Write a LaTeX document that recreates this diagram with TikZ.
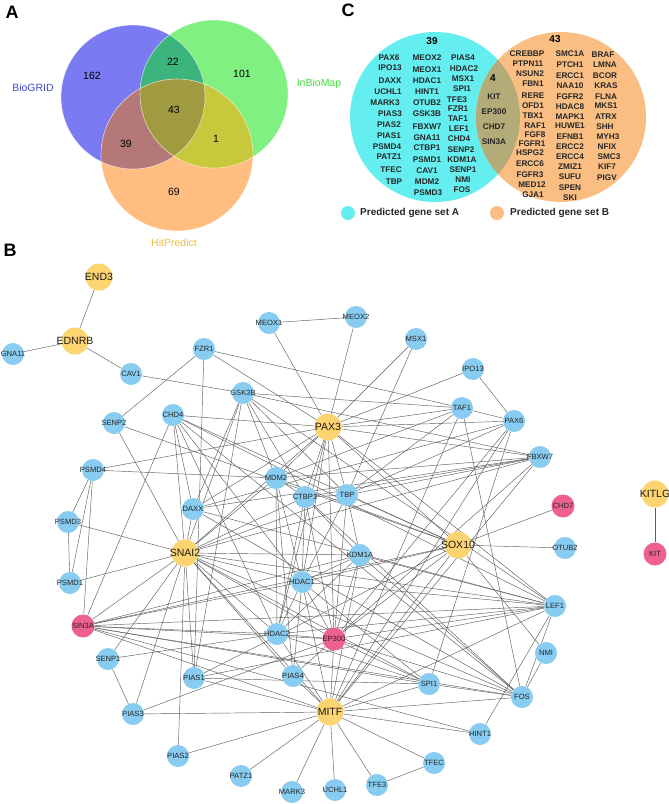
\documentclass[tikz,border=0pt]{standalone}
\usepackage{fontspec}
\setmainfont{Liberation Sans}
\pgfdeclarelayer{bg}
\pgfdeclarelayer{edges}
\pgfsetlayers{bg,edges,main}
\definecolor{vblue}{RGB}{122,122,242}
\definecolor{vgreen}{RGB}{128,240,128}
\definecolor{vorange}{RGB}{255,190,128}
\definecolor{vteal}{RGB}{60,180,125}
\definecolor{vbrown}{RGB}{180,120,120}
\definecolor{vyel}{RGB}{200,200,60}
\definecolor{volive}{RGB}{160,155,65}
\definecolor{lblue}{RGB}{70,70,210}
\definecolor{lgreen}{RGB}{70,220,70}
\definecolor{lorange}{RGB}{240,190,60}
\definecolor{ccyan}{RGB}{100,238,240}
\definecolor{corange}{RGB}{250,190,130}
\definecolor{colive}{RGB}{180,172,120}
\definecolor{nblue}{RGB}{136,204,241}
\definecolor{nyel}{RGB}{254,212,112}
\definecolor{npink}{RGB}{238,95,146}
\definecolor{edgec}{RGB}{95,95,95}
\newcommand\Bn[3]{\node[bn,label={[sl]center:#1}] (#1) at (#2,#3) {};}
\newcommand\Yn[3]{\node[yn,label={[hl]center:#1}] (#1) at (#2,#3) {};}
\newcommand\Pn[3]{\node[pn,label={[sl]center:#1}] (#1) at (#2,#3) {};}
\begin{document}
\begin{tikzpicture}[x=1pt,y=-1pt,
  panel/.style={font=\fontsize{18}{18}\selectfont\bfseries, inner sep=0},
  vnum/.style={font=\fontsize{10.5}{11}\selectfont, inner sep=0},
  vlab/.style={font=\fontsize{10.5}{11}\selectfont, inner sep=0},
  gC/.style={font=\fontsize{8.2}{9}\selectfont\bfseries, text=black!85, inner sep=0},
  cnum/.style={font=\fontsize{10}{10}\selectfont\bfseries, inner sep=0},
  leg/.style={font=\fontsize{10}{11}\selectfont\bfseries, text=black!85, inner sep=0, anchor=west},
  bn/.style={circle, fill=nblue, minimum size=22pt, inner sep=0},
  yn/.style={circle, fill=nyel, minimum size=27pt, inner sep=0},
  pn/.style={circle, fill=npink, minimum size=23pt, inner sep=0},
  sl/.style={font=\fontsize{7.6}{8}\selectfont, text=black!85, inner sep=0},
  hl/.style={font=\fontsize{10.5}{11}\selectfont, text=black!90, inner sep=0},
  edge/.style={draw=edgec, line width=0.45pt}
]
\begin{pgfonlayer}{bg}
\fill[white] (0,0) rectangle (669,804);
\end{pgfonlayer}
\useasboundingbox (0,0) rectangle (669,804);

% ---------- Panel A ----------
\node[panel] (pA) at (12,12) {A};
\fill[vblue] (133,97) circle (72);
\fill[vgreen] (214,94) circle (74);
\fill[vorange] (177,155) circle (76);
\begin{scope}\clip (133,97) circle (72); \fill[vteal] (214,94) circle (74); \end{scope}
\begin{scope}\clip (133,97) circle (72); \fill[vbrown] (177,155) circle (76); \end{scope}
\begin{scope}\clip (214,94) circle (74); \fill[vyel] (177,155) circle (76); \end{scope}
\begin{scope}\clip (133,97) circle (72); \clip (214,94) circle (74); \fill[volive] (177,155) circle (76); \end{scope}
\draw[white, opacity=0.6, line width=0.6pt] (133,97) circle (72) (214,94) circle (74) (177,155) circle (76);
\node[vnum] (n162) at (92,76) {162};
\node[vnum] (n22) at (173,62) {22};
\node[vnum] (n101) at (242,74) {101};
\node[vnum] (n43a) at (174,110) {43};
\node[vnum] (n39a) at (126,144) {39};
\node[vnum] (n1) at (216,139) {1};
\node[vnum] (n69) at (174,192) {69};
\node[vlab, text=lblue] (lbio) at (33,88) {BioGRID};
\node[vlab, text=lgreen] (linb) at (319,84) {InBioMap};
\node[vlab, text=lorange] (lhit) at (174,243) {HitPredict};

% ---------- Panel C ----------
\node[panel] (pC) at (348,10) {C};
\fill[ccyan] (435,117) circle (85);
\fill[corange] (561,117) circle (85);
\begin{scope}\clip (435,117) circle (85); \fill[colive] (561,117) circle (85); \end{scope}
\node[cnum] (c39) at (432,41) {39};
\node[cnum] (c43) at (555,39) {43};
\node[cnum] (c4) at (493,78) {4};
\foreach \t/\x/\y in {PAX6/389/58,IPO13/390/68,DAXX/390/81,UCHL1/388/92,MARK3/385/103,PIAS3/390/114,PIAS2/389/125,PIAS1/389/136,PSMD4/387/147,PATZ1/389/157,TFEC/391/170,TBP/394/182,
 MEOX2/427/58,MEOX1/427/70,HDAC1/427/81,HINT1/427/92,OTUB2/427/103,GSK3B/427/114,FBXW7/427/127,GNA11/427/138,CTBP1/427/148,PSMD1/427/160,CAV1/427/171,MDM2/427/182,PSMD3/428/193,
 PIAS4/463/58,HDAC2/464/69,MSX1/463/79,SPI1/462/89,TFE3/457/100,FZR1/458/109,TAF1/458/119,LEF1/459/129,CHD4/459/139,SENP2/461/150,KDM1A/462/160,SENP1/463/170,NMI/463/180,FOS/462/190,
 KIT/494/97,EP300/494/112,CHD7/494/127,SIN3A/494/142,
 CREBBP/527/54,PTPN11/528/64,NSUN2/530/74,FBN1/533/84,RERE/533/96,OFD1/533/106,TBX1/533/116,RAF1/535/126,FGF8/535/135,FGFR1/532/144,HSPG2/530/153,ERCC6/530/164,FGFR3/530/175,MED12/532/185,GJA1/533/195,
 SMC1A/570/54,PTCH1/570/65,ERCC1/570/76,NAA10/570/86,FGFR2/570/97,HDAC8/570/107,MAPK1/570/117,HUWE1/570/126,EFNB1/570/137,ERCC2/570/147,ERCC4/570/157,ZMIZ1/570/167,SUFU/570/177,SPEN/570/188,SKI/570/198,
 BRAF/603/55,LMNA/605/65,BCOR/605/76,KRAS/606/86,FLNA/606/97,MKS1/606/106,ATRX/606/117,SHH/605/127,MYH3/608/137,NFIX/607/147,SMC3/609/157,KIF7/607/167,PIGV/607/178}
  \node[gC] at (\x,\y) {\t};
\fill[ccyan] (348,213) circle (7);
\node[leg] (legA) at (360,213) {Predicted gene set A};
\fill[corange] (497,213) circle (7);
\node[leg] (legB) at (510,213) {Predicted gene set B};

% ---------- Panel B ----------
\node[panel] (pB) at (10,250) {B};
\Yn{END3}{99}{277}
\Yn{EDNRB}{75}{341}
\Bn{GNA11}{13}{354}
\Bn{CAV1}{131}{374}
\Bn{FZR1}{204}{349}
\Bn{MEOX1}{269}{323}
\Bn{MEOX2}{356}{317}
\Bn{MSX1}{416}{339}
\Bn{IPO13}{473}{369}
\Bn{GSK3B}{243}{393}
\Bn{CHD4}{173}{415}
\Bn{SENP2}{114}{423}
\Yn{PAX3}{328}{427}
\Bn{TAF1}{462}{408}
\Bn{PAX6}{514}{421}
\Bn{PSMD4}{93}{470}
\Bn{FBXW7}{540}{457}
\Bn{MDM2}{276}{478}
\Bn{CTBP1}{305}{497}
\Bn{TBP}{347}{495}
\Bn{DAXX}{193}{509}
\Pn{CHD7}{563}{506}
\Yn{KITLG}{655}{494}
\Bn{PSMD3}{68}{522}
\Bn{KDM1A}{360}{555}
\Yn{SNAI2}{185}{553}
\Yn{SOX10}{458}{545}
\Bn{OTUB2}{565}{548}
\Pn{KIT}{655}{554}
\Bn{PSMD1}{70}{583}
\Bn{HDAC1}{302}{582}
\Bn{LEF1}{555}{606}
\Pn{SIN3A}{83}{626}
\Bn{HDAC2}{277}{634}
\Pn{EP300}{334}{639}
\Bn{NMI}{546}{653}
\Bn{SENP1}{108}{659}
\Bn{PIAS1}{194}{678}
\Bn{PIAS4}{293}{676}
\Bn{SPI1}{429}{684}
\Bn{FOS}{522}{697}
\Yn{MITF}{330}{712}
\Bn{PIAS3}{133}{714}
\Bn{HINT1}{480}{734}
\Bn{PIAS2}{178}{756}
\Bn{TFEC}{434}{763}
\Bn{PATZ1}{241}{776}
\Bn{TFE3}{377}{785}
\Bn{MARK3}{292}{792}
\Bn{UCHL1}{335}{790}

\begin{pgfonlayer}{edges}
\foreach \a/\b in {END3/EDNRB,EDNRB/GNA11,EDNRB/CAV1,KITLG/KIT,MEOX1/MEOX2,TFE3/TFEC,IPO13/PAX6,TAF1/PAX6,PSMD4/PSMD3,PSMD4/PSMD1,PSMD3/PSMD1,PSMD4/SIN3A,SENP1/PIAS3,SENP2/FZR1,CAV1/GSK3B,NMI/FOS,LEF1/FOS,HINT1/LEF1,SOX10/CHD7,SOX10/OTUB2,
PAX3/MEOX1,PAX3/MEOX2,PAX3/MSX1,PAX3/IPO13,PAX3/FZR1,PAX3/TAF1,PAX3/PSMD4,PAX3/MDM2,PAX3/CTBP1,PAX3/TBP,PAX3/SOX10,PAX3/LEF1,PAX3/HDAC1,PAX3/DAXX,PAX3/PAX6,PAX3/FBXW7,PAX3/HDAC2,PAX3/EP300,PAX3/SNAI2,PAX3/CHD4,
SNAI2/PSMD3,SNAI2/PSMD1,SNAI2/SIN3A,SNAI2/DAXX,SNAI2/SENP2,SNAI2/CHD4,SNAI2/GSK3B,SNAI2/MDM2,SNAI2/CTBP1,SNAI2/TBP,SNAI2/KDM1A,SNAI2/HDAC1,SNAI2/HDAC2,SNAI2/EP300,SNAI2/PIAS1,SNAI2/PIAS2,SNAI2/PIAS3,SNAI2/PIAS4,SNAI2/MITF,SNAI2/SPI1,SNAI2/FOS,SNAI2/LEF1,SNAI2/FBXW7,SNAI2/SENP1,
SOX10/SENP2,SOX10/CHD4,SOX10/MDM2,SOX10/TBP,SOX10/HDAC1,SOX10/EP300,SOX10/SIN3A,SOX10/PIAS1,SOX10/MITF,SOX10/NMI,
MITF/PIAS1,MITF/PIAS2,MITF/PIAS3,MITF/PIAS4,MITF/PATZ1,MITF/MARK3,MITF/UCHL1,MITF/TFE3,MITF/TFEC,MITF/HINT1,MITF/FOS,MITF/SPI1,MITF/LEF1,MITF/HDAC1,MITF/HDAC2,MITF/EP300,MITF/SIN3A,MITF/KDM1A,MITF/TAF1,MITF/PAX6,MITF/FBXW7,
HDAC1/CHD4,HDAC1/MDM2,HDAC1/CTBP1,HDAC1/TBP,HDAC1/KDM1A,HDAC1/HDAC2,HDAC1/EP300,HDAC1/SIN3A,HDAC1/SPI1,HDAC1/PIAS4,HDAC1/LEF1,
HDAC2/CHD4,HDAC2/MDM2,HDAC2/CTBP1,HDAC2/KDM1A,HDAC2/EP300,HDAC2/SIN3A,HDAC2/SPI1,HDAC2/SENP1,HDAC2/LEF1,
EP300/TBP,EP300/CTBP1,EP300/KDM1A,EP300/SPI1,EP300/FOS,EP300/LEF1,EP300/SIN3A,EP300/PIAS4,EP300/PIAS3,EP300/FBXW7,EP300/PAX6,
SIN3A/CHD4,SIN3A/SPI1,SIN3A/FOS,SIN3A/LEF1,SIN3A/HINT1,SIN3A/KDM1A,
TBP/MSX1,TBP/TAF1,TBP/PAX6,TBP/FBXW7,TBP/GSK3B,TBP/CTBP1,TBP/KDM1A,
MDM2/GSK3B,MDM2/FBXW7,MDM2/TAF1,MDM2/CTBP1,MDM2/PSMD4,MDM2/PIAS4,
CTBP1/GSK3B,CTBP1/FBXW7,CTBP1/KDM1A,CTBP1/FOS,
DAXX/GSK3B,DAXX/CHD4,DAXX/FBXW7,DAXX/FOS,DAXX/LEF1,DAXX/PAX6,
GSK3B/FBXW7,GSK3B/LEF1,GSK3B/PIAS1,GSK3B/TAF1,CHD4/FOS,CHD4/LEF1,FZR1/PIAS1,FZR1/TAF1,
KDM1A/LEF1,KDM1A/FOS,SPI1/FOS,SPI1/PIAS1,TAF1/FOS,PAX6/SPI1,PIAS1/LEF1}
  \draw[edge] (\a) -- (\b);
\end{pgfonlayer}
\end{tikzpicture}
\end{document}
